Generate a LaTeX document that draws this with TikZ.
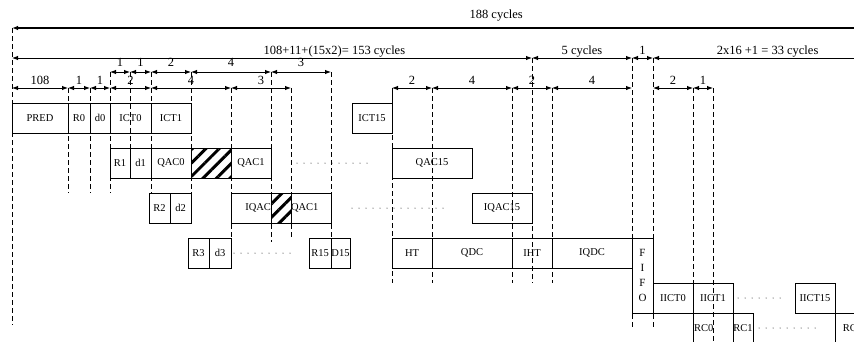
\documentclass[tikz,border=0pt]{standalone}
\usepackage{fontspec}
\setmainfont{Liberation Serif}
\usetikzlibrary{arrows.meta,positioning,patterns.meta}

\begin{document}
\begin{tikzpicture}[
  x=1pt, y=-1pt,
  node distance=0pt,
  box/.style={draw, line width=1pt, minimum height=30pt, inner sep=0pt, outer sep=0pt,
    font=\fontsize{10.5}{12}\selectfont},
  hatch/.style={box, pattern={Lines[angle=45,distance=9.5pt,line width=3pt]}},
  dim/.style={{Latex[length=6pt,width=4.5pt]}-{Latex[length=6pt,width=4.5pt]}, line width=0.9pt},
  lab/.style={above=2pt, inner sep=1pt, text depth=0pt, font=\fontsize{12.5}{14}\selectfont},
  guide/.style={line width=0.9pt, dash pattern=on 5pt off 3pt},
  dots/.style={line width=1pt, line cap=round, dash pattern=on 0pt off 7pt}
]
\clip (0,0) rectangle (854,341);

% guide lines
\foreach \x/\ya/\yb in {12/28/325, 68/88/193, 90/88/193, 110/72/193, 130/72/148,
    151/72/193, 191/72/193, 231/88/238, 271/72/242, 291/88/238, 331/72/242,
    392/103/283, 432/88/283, 512/88/283, 532/58/283, 552/88/283,
    632/58/328, 653/58/328, 693/88/283, 713/88/341}
  \draw[guide] (\x,\ya) -- (\x,\yb);

% row 1
\node[box, minimum width=56pt] (pred) at (40,118) {PRED};
\node[box, minimum width=22pt, right=of pred] (r0) {R0};
\node[box, minimum width=20pt, right=of r0] (d0) {d0};
\node[box, minimum width=41pt, right=of d0] (ict0) {ICT0};
\node[box, minimum width=40pt, right=of ict0] (ict1) {ICT1};
\node[box, minimum width=40pt] (ict15) at (372,118) {ICT15};
\draw[line width=1pt] (ict15.north east) -- ++(0,-15);

% row 2
\node[box, minimum width=20pt] (r1) at (120,163) {R1};
\node[box, minimum width=21pt, right=of r1] (d1) {d1};
\node[box, minimum width=40pt, right=of d1] (qac0) {QAC0};
\node[hatch, minimum width=40pt, right=of qac0] (idle1) {};
\node[box, minimum width=40pt, right=of idle1] (qac1) {QAC1};
\node[box, minimum width=80pt] (qac15) at (432,163) {QAC15};

% row 3
\node[box, minimum width=21pt] (r2) at (159.5,208) {R2};
\node[box, minimum width=21pt, right=of r2] (d2) {d2};
\node[box, minimum width=40pt, text width=40pt, align=right] (iqac) at (251,208) {IQAC};
\node[hatch, minimum width=20pt, right=of iqac] (idle2) {};
\node[box, minimum width=40pt, text width=40pt, align=left, right=of idle2] (qacb) {QAC1};
\node[box, minimum width=60pt] (iqac15) at (502,208) {IQAC15};

% row 4
\node[box, minimum width=21pt] (r3) at (198.5,253) {R3};
\node[box, minimum width=22pt, right=of r3] (d3) {d3};
\node[box, minimum width=22pt] (r15) at (320,253) {R15};
\node[box, minimum width=19pt, right=of r15] (d15) {D15};
\node[box, minimum width=40pt] (ht) at (412,253) {HT};
\node[box, minimum width=80pt, right=of ht] (qdc) {QDC};
\node[box, minimum width=40pt, right=of qdc] (iht) {IHT};
\node[box, minimum width=80pt, right=of iht] (iqdc) {IQDC};
\node[box, minimum width=21pt, minimum height=75pt, align=center, anchor=north west,
  font=\fontsize{11}{15}\selectfont] (fifo) at (iqdc.north east) {F\\I\\F\\O};

% row 5
\node[box, minimum width=40pt] (iict0) at (673,298) {IICT0};
\node[box, minimum width=40pt, right=of iict0] (iict1) {IICT1};
\node[box, minimum width=40pt] (iict15) at (815,298) {IICT15};

% row 6
\node[box, minimum width=40pt, text width=38pt, align=left] (rc0) at (713,328) {RC0};
\node[box, minimum width=20pt, right=of rc0] (rc1) {RC1};
\node[box, minimum width=40pt] (rc15) at (855,328) {RC15};

% dotted gaps
\draw[dots, shorten <=26pt, shorten >=23pt] (qac1) -- (qac15);
\draw[dots, shorten <=21pt, shorten >=25pt] (qacb) -- (iqac15);
\draw[dots, shorten <=3pt, shorten >=16pt] (d3) -- (r15);
\draw[dots, shorten <=5pt, shorten >=10pt] (iict1) -- (iict15);
\draw[dots, shorten <=6pt, shorten >=17pt] (rc1) -- (rc15);

% cycle counts
\coordinate (all0) at (12,28);
\coordinate (all1) at (854,28);
\draw[{Latex[length=6pt,width=4.5pt]}-, line width=1.1pt] (all0) -- (all1)
  node[lab, pos=0.575, above=7.5pt] {188 cycles};
\coordinate (w0) at (12,58);
\coordinate (w1) at (532,58);
\coordinate (w2) at (632,58);
\coordinate (w3) at (653,58);
\coordinate (w4) at (854,58);
\draw[dim] (w0) -- node[lab, pos=0.62] {108+11+(15x2)= 153 cycles} (w1);
\draw[dim] (w1) -- node[lab] {5 cycles} (w2);
\draw[dim] (w2) -- node[lab] {1} (w3);
\draw[{Latex[length=6pt,width=4.5pt]}-, line width=0.9pt] (w3) -- node[lab, pos=0.57] {2x16 +1 = 33 cycles} (w4);

\foreach \xa/\xb/\txt [count=\i] in {110/130/1, 130/151/1, 151/191/2, 191/271/4, 271/331/3}{
  \coordinate (ua\i) at (\xa,72);
  \coordinate (ub\i) at (\xb,72);
  \draw[dim] (ua\i) -- node[lab, yshift=2pt] {\txt} (ub\i);
}
\foreach \xa/\xb/\txt [count=\i] in {12/68/108, 68/90/1, 90/110/1, 110/151/2, 151/231/4,
    231/291/3, 392/432/2, 432/512/4, 512/552/2, 552/632/4, 653/693/2, 693/713/1}{
  \coordinate (va\i) at (\xa,88);
  \coordinate (vb\i) at (\xb,88);
  \draw[dim] (va\i) -- node[lab] {\txt} (vb\i);
}
\end{tikzpicture}
\end{document}
